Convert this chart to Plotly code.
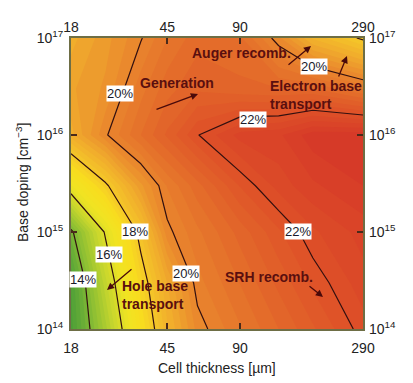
import numpy as np
import plotly.graph_objects as go

# ---------------- data ----------------
thickness_um = [18, 25, 35, 45, 60, 90, 130, 180, 290]
base_doping = [1e14, 3e14, 1e15, 3e15, 1e16, 3e16, 1e17]
# efficiency [%], rows = base doping, columns = cell thickness
eff_1e14 = [12.9, 14.9, 17.24, 18.7, 19.85, 20.47, 21.0, 21.46, 22.13]
eff_3e14 = [13.0, 15.41, 17.64, 19.0, 20.15, 20.76, 21.32, 21.81, 22.4]
eff_1e15 = [13.85, 16.09, 18.25, 19.9, 20.44, 21.1, 21.7, 22.2, 22.6]
eff_3e15 = [16.45, 17.87, 19.43, 20.27, 20.9, 21.77, 22.35, 22.7, 23.0]
eff_1e16 = [18.9, 19.95, 20.75, 21.3, 21.98, 22.6, 22.7, 23.15, 23.18]
eff_3e16 = [19.2, 19.55, 20.4, 20.9, 21.2, 21.07, 21.0, 21.0, 20.45]
eff_1e17 = [18.9, 19.4, 19.97, 20.5, 20.9, 20.8, 19.82, 18.7, 17.9]
efficiency = [eff_1e14, eff_3e14, eff_1e15, eff_3e15, eff_1e16, eff_3e16, eff_1e17]

line_levels = [14, 16, 18, 20, 22]
x_tick_vals = [18, 45, 90, 290]
x_tick_text = ["18", "45", "90", "290"]
y_tick_vals = [1e14, 1e15, 1e16, 1e17]
y_tick_text = ["10<sup>14</sup>", "10<sup>15</sup>", "10<sup>16</sup>", "10<sup>17</sup>"]

pct_texts = ["14%", "16%", "18%", "20%", "20%", "20%", "22%", "22%"]
region_texts = ["Auger recomb.", "Generation", "Electron base<br>transport",
                "Hole base<br>transport", "SRH recomb."]

# ---------------- layout helpers (picture pixel -> paper) ----------------
L, R, T, B = 71, 363, 38, 329      # plot area in the picture
BODY = 8                           # default page margin of the html body
W, H = 413 - BODY, 383 - BODY


def px(xp):
    return (xp - L) / (R - L)


def py(yp):
    return (B - yp) / (B - T)


# label positions in picture pixels
pct_pos = [(83, 279), (109, 254), (135, 231), (186, 273), (119.5, 93), (314, 67), (253, 119), (298, 231)]
region_pos = [(241, 53, "center"), (177, 83, "center"), (268, 95, "left"), (120, 295, "left"), (269, 277, "center")]
arrow_pos = [((155, 110), (198, 94)), ((287, 66), (311, 46)), ((338, 78), (347, 56)),
             ((133, 268), (107, 290)), ((308, 285), (323, 297))]

# ---------------- figure ----------------
X = np.log10(thickness_um)
Y = np.log10(base_doping)
Z = np.array(efficiency)

zmin, zmax = 12.5, 23.5
stops = [
    (12.5, "rgb(62,150,55)"),
    (13.5, "rgb(98,170,55)"),
    (14.5, "rgb(150,195,50)"),
    (15.5, "rgb(200,214,45)"),
    (16.5, "rgb(240,228,35)"),
    (17.3, "rgb(248,222,30)"),
    (18.0, "rgb(245,200,40)"),
    (19.0, "rgb(240,170,45)"),
    (20.0, "rgb(233,132,45)"),
    (21.0, "rgb(227,104,42)"),
    (22.0, "rgb(222,80,40)"),
    (23.0, "rgb(215,60,40)"),
    (23.5, "rgb(212,52,40)"),
]
colorscale = [[(v - zmin) / (zmax - zmin), c] for v, c in stops]

fig = go.Figure()
fig.add_trace(go.Contour(
    x=X, y=Y, z=Z, zmin=zmin, zmax=zmax, colorscale=colorscale,
    contours=dict(coloring="fill", start=12.5, end=23.5, size=0.25),
    line=dict(width=0, smoothing=0), showscale=False, hoverinfo="skip",
))
fig.add_trace(go.Contour(
    x=X, y=Y, z=Z,
    contours=dict(coloring="none", start=min(line_levels), end=max(line_levels), size=2),
    line=dict(color="#321010", width=1.2, smoothing=0), showscale=False, hoverinfo="skip",
))
fig.add_trace(go.Scatter(x=[X[0]], y=[Y[0]], xaxis="x2", yaxis="y2",
                         mode="markers", marker=dict(opacity=0), showlegend=False, hoverinfo="skip"))

FONT = "Liberation Sans, Arial"
xr = [np.log10(18), np.log10(290)]
yr = [14, 17]
tick_font = dict(family=FONT, size=14, color="#222")
axcommon = dict(showgrid=False, zeroline=False, ticks="inside", ticklen=6, tickwidth=1.5,
                tickcolor="#4a2a1a", tickfont=tick_font, automargin=False)
xtv = list(np.log10(x_tick_vals))
ytv = list(np.log10(y_tick_vals))
fig.update_layout(
    width=W, height=H,
    margin=dict(l=L - BODY, r=W - (R - BODY), t=T - BODY, b=H - (B - BODY), autoexpand=False),
    paper_bgcolor="white", plot_bgcolor="white",
    showlegend=False,
    xaxis=dict(range=xr, tickvals=xtv, ticktext=x_tick_text, showline=True, linecolor="#6e6e45",
               linewidth=2, mirror=True, ticklabelstandoff=5, **axcommon),
    yaxis=dict(range=yr, tickvals=ytv, ticktext=y_tick_text, showline=True, linecolor="#6e6e45",
               linewidth=2, mirror=True, ticklabelstandoff=3, **axcommon),
    xaxis2=dict(range=xr, overlaying="x", side="top", tickvals=xtv, ticktext=x_tick_text,
                ticklabelstandoff=2, **axcommon),
    yaxis2=dict(range=yr, overlaying="y", side="right", tickvals=ytv, ticktext=y_tick_text,
                ticklabelstandoff=5, **axcommon),
)

ann = []
for txt, (xp, yp) in zip(pct_texts, pct_pos):
    ann.append(dict(x=px(xp), y=py(yp), xref="paper", yref="paper", text=txt, showarrow=False,
                    xanchor="center", yanchor="middle",
                    font=dict(family=FONT, size=13, color="#1a1a2a"),
                    bgcolor="white", borderpad=0))

lab_font = dict(family=FONT, size=14, color="#5a0f0f")
for txt, (xp, yp, al) in zip(region_texts, region_pos):
    ann.append(dict(x=px(xp), y=py(yp), xref="paper", yref="paper", text="<b>" + txt + "</b>",
                    showarrow=False, font=lab_font, xanchor=al, align="left", yanchor="middle"))

for (tail, head) in arrow_pos:
    ann.append(dict(x=px(head[0]), y=py(head[1]), xref="paper", yref="paper", text="", showarrow=True,
                    axref="pixel", ayref="pixel", ax=tail[0] - head[0], ay=tail[1] - head[1],
                    arrowhead=2, arrowsize=1.1, arrowwidth=1.3, arrowcolor="#4a0a0a"))

# axis titles
ann.append(dict(x=px(217), y=py(368), xref="paper", yref="paper", text="Cell thickness [µm]",
                xanchor="center", yanchor="middle",
                showarrow=False, font=dict(family=FONT, size=14, color="#222")))
ann.append(dict(x=px(22), y=py(183), xref="paper", yref="paper", text="Base doping [cm<sup>−3</sup>]",
                xanchor="center", yanchor="middle",
                showarrow=False, textangle=-90, font=dict(family=FONT, size=14, color="#222")))
fig.update_layout(annotations=ann)

fig.write_html("out.html")
